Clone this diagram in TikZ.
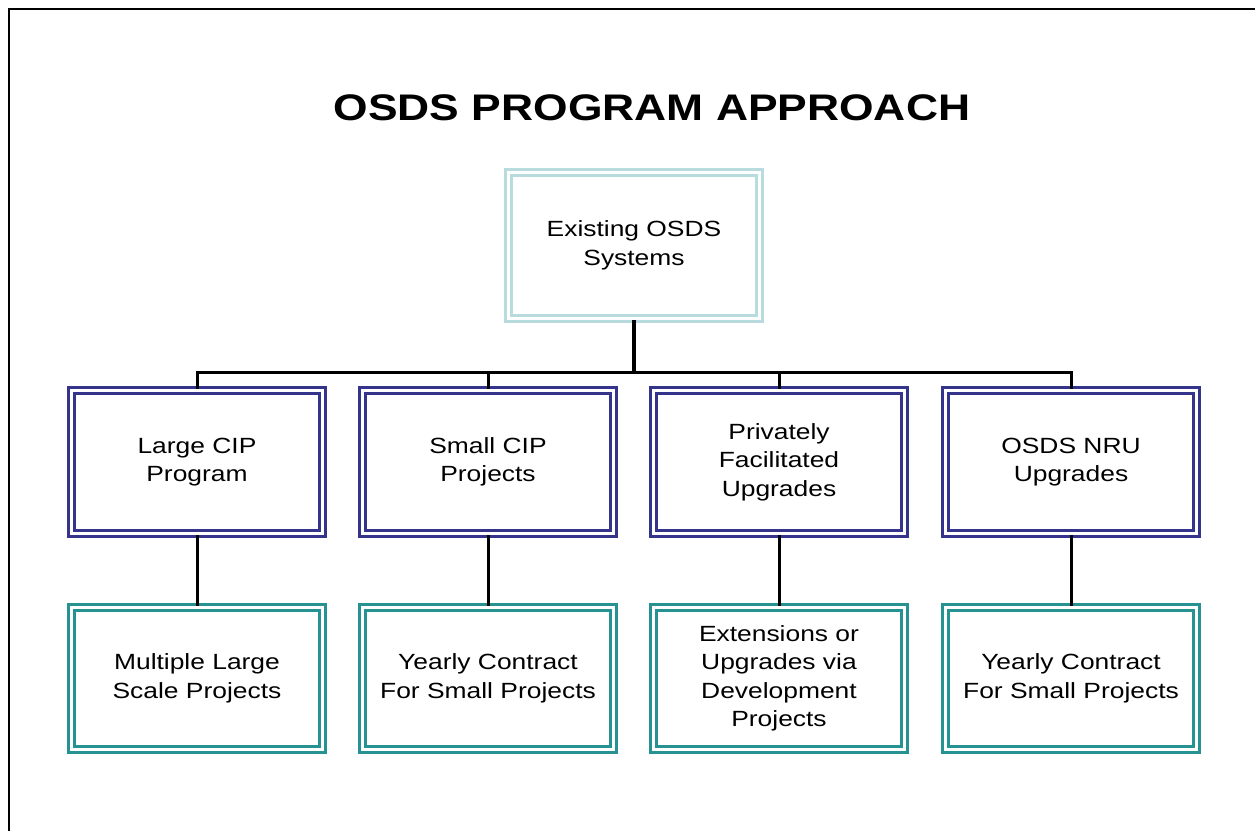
\documentclass[tikz,border=0pt]{standalone}
\usepackage{fontspec}
\setmainfont{Liberation Sans}[FakeStretch=1.2]
\definecolor{navyline}{RGB}{52,52,140}
\definecolor{tealline}{RGB}{38,146,146}
\definecolor{paleline}{RGB}{184,220,222}
\begin{document}
\begin{tikzpicture}[x=1pt,y=-1pt,
  boxbase/.style={draw, line width=3.3pt, double=white, double distance=2.7pt,
    inner sep=0pt, align=center, font=\fontsize{22}{28.5}\selectfont},
  topbox/.style={boxbase, draw=paleline, minimum width=250.7pt, minimum height=145.7pt},
  midbox/.style={boxbase, draw=navyline, minimum width=250.7pt, minimum height=142.7pt},
  lowbox/.style={boxbase, draw=tealline, minimum width=250.7pt, minimum height=141.7pt},
  link/.style={draw=black, line width=3pt},
  stem/.style={draw=black, line width=4pt}]
\useasboundingbox (0,0) rectangle (1255,831);
% page frame, top and left edges only
\draw[line width=2pt] (9,831) -- (9,9) -- (1255,9);
% heading
\node (title) at (652,108) {\fontsize{37}{42}\selectfont\bfseries OSDS PROGRAM APPROACH};
% root
\node[topbox] (root) at (634,245.5) {Existing OSDS\\Systems};
% second level
\node[midbox] (large) at (197,462) {Large CIP\\Program};
\node[midbox] (small) at (488,462) {Small CIP\\Projects};
\node[midbox] (priv)  at (779,462) {Privately\\Facilitated\\Upgrades};
\node[midbox] (nru)   at (1071,462) {OSDS NRU\\Upgrades};
% third level
\node[lowbox] (multi)  at (197,678.5) {Multiple Large\\Scale Projects};
\node[lowbox] (yearA)  at (488,678.5) {Yearly Contract\\For Small Projects};
\node[lowbox] (ext)    at (779,678.5) {Extensions or\\Upgrades via\\Development\\Projects};
\node[lowbox] (yearB)  at (1071,678.5) {Yearly Contract\\For Small Projects};
% tree connectors
\coordinate (bus) at (634,372);
\draw[stem] (root.south) -- (bus);
\draw[link] (large.north) -- (large.north |- bus) -- (nru.north |- bus) -- (nru.north);
\draw[link] (small.north) -- (small.north |- bus);
\draw[link] (priv.north) -- (priv.north |- bus);
\draw[link] (large.south) -- (multi.north);
\draw[link] (small.south) -- (yearA.north);
\draw[link] (priv.south) -- (ext.north);
\draw[link] (nru.south) -- (yearB.north);
\end{tikzpicture}
\end{document}
